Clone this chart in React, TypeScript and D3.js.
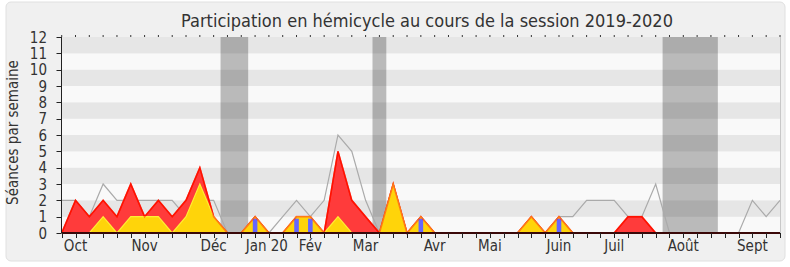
import React from "react";
import * as d3 from "d3";

// Week index 0..52 (session 2019-2020)
const weeks: number[] = d3.range(0, 53);

// Total séances per week (grey line)
const totalSeances: number[] = [
  2, 2, 1, 3, 2, 2, 2, 2, 2, 1, 2, 2, 0, 0, 1, 0, 1, 2, 1, 2, 6, 5, 2, 0, 3, 0, 1,
  0, 0, 0, 0, 0, 0, 0, 1, 0, 1, 1, 2, 2, 2, 1, 1, 3, 0, 0, 0, 0, 0, 0, 2, 1, 2,
];
// Présence (red area)
const presence: number[] = [
  0, 2, 1, 2, 1, 3, 1, 2, 1, 2, 4, 1, 0, 0, 1, 0, 0, 1, 1, 0, 5, 2, 1, 0, 3, 0, 1,
  0, 0, 0, 0, 0, 0, 0, 1, 0, 1, 0, 0, 0, 0, 1, 1, 0, 0, 0, 0, 0, 0, 0, 0, 0, 0,
];
// Présence en hémicycle (yellow area)
const hemicycle: number[] = [
  0, 0, 0, 1, 0, 1, 1, 1, 0, 1, 3, 1, 0, 0, 1, 0, 0, 1, 1, 0, 1, 0, 0, 0, 3, 0, 1,
  0, 0, 0, 0, 0, 0, 0, 1, 0, 1, 0, 0, 0, 0, 0, 0, 0, 0, 0, 0, 0, 0, 0, 0, 0, 0,
];
// Interventions (blue bars)
const interventions: number[] = [
  0, 0, 0, 0, 0, 0, 0, 0, 0, 0, 0, 0, 0, 0, 1, 0, 0, 1, 1, 0, 0, 0, 0, 0, 0, 0, 1,
  0, 0, 0, 0, 0, 0, 0, 0, 0, 1, 0, 0, 0, 0, 0, 0, 0, 0, 0, 0, 0, 0, 0, 0, 0, 0,
];
// Vacation periods (week index start/end)
const vacStart: number[] = [11.5, 22.5, 43.5];
const vacEnd: number[] = [13.5, 23.5, 47.5];

// Month labels and their week position
const monthLabels: string[] = ["Oct", "Nov", "Déc", "Jan 20", "Fév", "Mar", "Avr", "Mai", "Juin", "Juil", "Août", "Sept"];
const monthPos: number[] = [1, 6, 11, 14.85, 18, 22, 27, 31, 36, 40, 45, 50];

const yTicks: number[] = d3.range(0, 13);

const W = 790;
const H = 267;
const FONT = "'DejaVu Sans Condensed', 'DejaVu Sans', sans-serif";

export default function App() {
  const x = d3.scaleLinear().domain([0, 52]).range([61.7, 780]);
  const y = d3.scaleLinear().domain([0, 12]).range([233, 37]);

  const area = (vals: number[]) =>
    d3
      .area<number>()
      .x((d) => x(d))
      .y0(y(0))
      .y1((d) => y(vals[d]))(weeks) || "";
  const line = (vals: number[]) =>
    d3
      .line<number>()
      .x((d) => x(d))
      .y((d) => y(vals[d]))(weeks) || "";

  const stripes = d3.range(0, 12);
  const barW = 4.6;

  return (
    <svg width={W} height={H} style={{ position: "absolute", left: 0, top: 0 }}>
      <rect x={6} y={2} width={779} height={259} rx={5} fill="#f0f0f0" stroke="#e0e0e0" />
      <text x={427} y={26.5} textAnchor="middle" fontFamily={FONT} fontSize={18} fill="#333">
        Participation en hémicycle au cours de la session 2019-2020
      </text>
      {/* stripes */}
      {stripes.map((k) => (
        <rect
          key={"s" + k}
          x={x(0)}
          y={y(k + 1)}
          width={x(52) - x(0)}
          height={y(k) - y(k + 1)}
          fill={k % 2 === 1 ? "#e6e6e6" : "#f9f9f9"}
        />
      ))}
      {/* vacation bands */}
      {vacStart.map((s, i) => (
        <rect key={"v" + i} x={x(s)} y={y(12)} width={x(vacEnd[i]) - x(s)} height={y(0) - y(12)} fill="#000" fillOpacity={0.25} />
      ))}
      {/* total grey line */}
      <path d={line(totalSeances)} fill="none" stroke="#aaaaaa" strokeWidth={1.2} />
      {/* presence red */}
      <path d={area(presence)} fill="#ff3b3b" />
      <path d={line(presence)} fill="none" stroke="#ff0000" strokeWidth={1.5} />
      {/* hemicycle yellow */}
      <path d={area(hemicycle)} fill="#ffd40a" />
      <path d={line(hemicycle)} fill="none" stroke="#ffee33" strokeWidth={1.2} />
      {/* interventions */}
      {weeks
        .filter((w) => interventions[w] > 0)
        .map((w) => (
          <rect
            key={"b" + w}
            x={x(w) - barW / 2}
            y={y(interventions[w]) + 2}
            width={barW}
            height={y(0) - y(interventions[w]) - 2}
            fill="#6666ff"
          />
        ))}
      <path d={line(presence)} fill="none" stroke="#ff2000" strokeOpacity={0.55} strokeWidth={1.6} />
      {/* right border */}
      <line x1={780.5} x2={780.5} y1={y(12)} y2={y(0)} stroke="#c8c8c8" />
      {/* top ticks */}
      {weeks.map((w) => (
        <line key={"tt" + w} x1={x(w)} x2={x(w)} y1={y(12) - 2} y2={y(12)} stroke="#333" />
      ))}
      {/* y axis */}
      <line x1={61.5} x2={61.5} y1={y(12)} y2={y(0)} stroke="#222" />
      {yTicks.map((t) => (
        <g key={"y" + t}>
          <line x1={56.5} x2={61.5} y1={Math.round(y(t)) + 0.5} y2={Math.round(y(t)) + 0.5} stroke="#222" />
          <text x={47} y={y(t) + 5.5} textAnchor="end" fontFamily={FONT} fontSize={15} fill="#333">
            {t}
          </text>
        </g>
      ))}
      {/* x axis */}
      <line x1={x(0)} x2={x(52)} y1={233} y2={233} stroke="#3a0808" strokeWidth={1.8} />
      {weeks.map((w) => (
        <line key={"bt" + w} x1={Math.round(x(w)) + 0.5} x2={Math.round(x(w)) + 0.5} y1={233} y2={238} stroke="#222" />
      ))}
      {monthLabels.map((m, i) => (
        <text key={"m" + i} x={x(monthPos[i])} y={251} textAnchor="middle" fontFamily={FONT} fontSize={15} fill="#333">
          {m}
        </text>
      ))}
      <text
        transform={`translate(17.5,132.5) rotate(-90)`}
        textAnchor="middle"
        fontFamily={FONT}
        fontSize={15}
        fill="#333"
      >
        Séances par semaine
      </text>
    </svg>
  );
}
